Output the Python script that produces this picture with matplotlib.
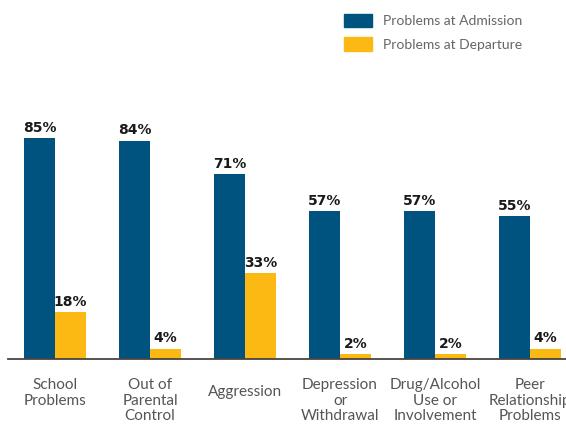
import matplotlib
matplotlib.use("Agg")
import matplotlib.pyplot as plt
from matplotlib.patches import Patch
from matplotlib.transforms import ScaledTranslation
import numpy as np

categories = ["School\nProblems", "Out of\nParental\nControl", "Aggression",
              "Depression\nor\nWithdrawal", "Drug/Alcohol\nUse or\nInvolvement",
              "Peer\nRelationship\nProblems"]
admission = [85, 84, 71, 57, 57, 55]
departure = [18, 4, 33, 2, 2, 4]
series_names = ["Problems at Admission", "Problems at Departure"]

BLUE = "#00527F"
YELLOW = "#FDB913"
W, H = 566, 424

fig = plt.figure(figsize=(W / 100, H / 100), dpi=100)
base_px = 359
ax = fig.add_axes([0, (H - base_px) / H, 1, base_px / H])
scale = 2.6  # px per percent
ax.set_ylim(0, base_px / scale)
x0 = 55 / 95
ax.set_xlim(-x0, (W - 55) / 95)

x = np.arange(len(categories))
bw = 31 / 95
b1 = ax.bar(x - bw / 2, admission, bw, color=BLUE)
b2 = ax.bar(x + bw / 2, departure, bw, color=YELLOW)

for bars, vals in ((b1, admission), (b2, departure)):
    for r, v in zip(bars, vals):
        ax.annotate(f"{v}%", (r.get_x() + r.get_width() / 2, r.get_height()),
                    xytext=(0, 4.5), textcoords="offset points",
                    ha="center", va="baseline", fontsize=10, fontweight="bold",
                    color="#1a1a1a", family="DejaVu Sans")

for s in ax.spines.values():
    s.set_visible(False)
ax.axhline(0, xmin=(8 / W), xmax=1, color="#4a4440", lw=1.3, clip_on=False)
ax.set_yticks([])
ax.set_xticks(x)
ax.set_xticklabels(categories, fontsize=11, color="#555555", family="Lato",
                   linespacing=1.12)
ax.tick_params(axis="x", length=0, pad=14)
for lbl in ax.get_xticklabels():
    if "\n" not in lbl.get_text():
        lbl.set_transform(lbl.get_transform() +
                          ScaledTranslation(0, -7 / 100, fig.dpi_scale_trans))

handles = [Patch(color=BLUE), Patch(color=YELLOW)]
fig.legend(handles, series_names, loc="upper left",
           bbox_to_anchor=(332 / W, 1 - 1 / H), frameon=False,
           labelcolor="#666666", handlelength=1.95,
           handleheight=1.1, handletextpad=0.85, labelspacing=0.75,
           prop={"family": "Lato", "size": 10})

fig.savefig("out.png", dpi=100)
